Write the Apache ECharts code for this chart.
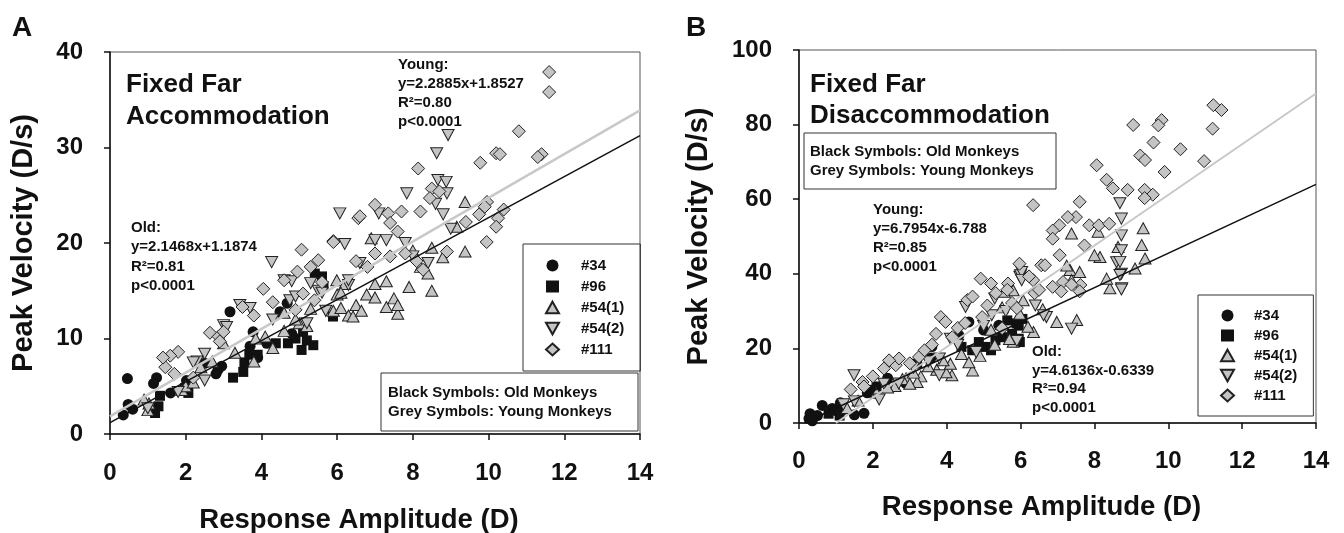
<!DOCTYPE html>
<html>
<head>
<meta charset="utf-8">
<script src="https://cdn.jsdelivr.net/npm/echarts@6/dist/echarts.min.js"></script>
<style>
html, body { margin: 0; padding: 0; background: #fff; }
#chart { width: 1344px; height: 533px; }
</style>
</head>
<body>
<div id="chart"></div>
<script>
// Panel A: Fixed Far Accommodation
const a34 = [[0.46,5.8],[0.35,2.0],[0.48,3.1],[0.6,2.6],[1.23,5.9],[1.15,5.3],[2.02,5.6],[2.5,7.4],[2.8,6.3],[2.85,6.7],[2.95,7.1],[3.17,12.8],[3.7,9.2],[3.78,10.7],[4.14,9.5],[4.49,12.8],[4.68,13.7],[4.8,10.5],[3.9,8.0],[1.6,4.3]];
const a96 = [[1.19,2.2],[1.28,2.9],[1.32,4.0],[1.1,2.5],[1.98,4.8],[2.07,4.3],[3.25,5.9],[3.52,6.5],[3.55,7.5],[3.68,8.3],[3.9,8.3],[4.38,9.5],[4.7,9.5],[5.06,8.8],[5.1,10.7],[5.37,9.3],[5.41,16.8],[5.6,16.5],[5.64,15.5],[5.89,12.3],[5.2,9.8],[4.9,10.0]];
const a54a = [[1.0,2.5],[1.03,3.2],[0.9,3.6],[1.9,4.6],[2.0,5.0],[2.2,5.4],[2.4,7.0],[2.7,7.6],[3.0,9.5],[3.3,8.5],[3.8,7.6],[3.85,10.0],[4.3,9.0],[4.6,10.8],[5.0,11.6],[5.2,11.3],[5.9,12.9],[6.1,13.2],[6.3,12.4],[6.5,13.5],[5.99,16.1],[6.2,15.7],[6.42,12.3],[6.64,12.9],[6.78,14.6],[7.0,15.7],[7.0,14.3],[7.3,16.0],[7.3,13.3],[7.5,14.2],[7.6,12.6],[7.6,13.5],[7.9,15.4],[8.2,17.5],[8.5,15.0],[8.4,16.8],[8.79,18.5],[9.38,24.3],[9.38,19.1],[9.16,21.7],[8.0,19.2],[8.5,19.5],[6.9,20.5],[6.0,14.6],[4.6,12.7],[4.9,12.0],[5.3,13.1],[6.1,14.8],[4.1,10.2]];
const a54b = [[6.07,23.1],[6.2,19.9],[4.27,18.0],[4.6,16.1],[4.8,16.0],[3.43,13.5],[3.7,13.2],[3.0,11.4],[2.5,8.4],[2.3,7.6],[2.5,5.6],[1.8,4.4],[1.0,2.7],[5.2,11.6],[5.7,12.9],[8.93,31.3],[8.63,29.4],[7.84,25.2],[8.66,26.6],[8.88,26.4],[8.9,25.2],[8.6,24.1],[7.1,23.1],[7.3,20.3],[7.0,20.3],[6.6,17.9],[7.8,20.0],[8.8,23.0],[8.4,17.9],[8.0,18.6],[6.3,15.6],[9.0,21.5],[5.5,15.0],[2.2,7.5],[3.08,11.2],[4.75,14.0],[4.9,14.4],[5.3,15.8],[4.3,12.0],[5.6,14.8],[6.3,16.1]];
const a111 = [[1.8,8.6],[1.59,8.2],[1.46,7.0],[1.7,6.3],[2.64,10.6],[2.87,10.2],[3.0,10.7],[2.9,9.7],[3.5,13.3],[3.8,12.4],[4.3,13.8],[4.05,15.2],[4.6,16.1],[5.06,19.3],[5.5,18.2],[5.9,20.2],[6.56,22.6],[5.1,14.7],[5.4,14.0],[11.6,37.9],[11.6,35.8],[10.8,31.7],[10.2,29.4],[10.3,29.3],[11.4,29.3],[11.3,29.0],[9.78,28.4],[8.14,27.8],[8.5,25.7],[8.7,25.4],[8.45,24.7],[7.0,24.0],[6.6,22.8],[7.35,23.1],[7.7,23.3],[8.2,23.3],[7.4,22.1],[7.6,21.2],[5.9,20.1],[9.96,24.3],[10.4,23.5],[10.25,22.6],[10.2,21.7],[9.95,20.1],[9.75,23.0],[9.9,23.8],[9.4,22.2],[8.9,19.1],[8.27,17.2],[8.1,18.1],[7.8,18.9],[7.0,18.9],[6.8,17.5],[6.5,18.1],[7.4,18.6],[2.2,5.9],[4.9,13.0],[1.4,8.0],[4.95,17.0],[5.3,17.5],[5.6,15.9]];

// Panel B: Fixed Far Disaccommodation
const b34 = [[0.27,1.2],[0.36,0.6],[0.3,2.5],[0.63,4.7],[0.9,3.9],[1.0,3.3],[1.12,5.4],[1.2,3.6],[1.5,2.2],[1.76,2.6],[1.85,8.1],[2.89,10.6],[3.57,17.4],[3.6,20.5],[4.33,23.5],[4.6,27.1],[5.0,24.9],[5.41,26.2],[2.4,12.0],[0.5,2.0]];
const b96 = [[4.69,19.5],[5.05,20.4],[5.2,19.5],[5.5,23.0],[5.77,23.9],[5.95,26.1],[6.05,27.9],[5.64,27.5],[5.32,22.2],[4.87,21.7],[1.9,8.9],[2.1,9.8],[4.4,20.4],[3.2,15.9],[5.95,22.6],[5.89,26.7],[5.98,21.7],[0.8,2.5],[1.1,2.0]];
const b54a = [[9.32,52.2],[9.28,47.7],[9.37,44.1],[9.1,41.4],[8.42,36.1],[8.33,38.7],[8.15,44.5],[8.1,51.3],[7.38,50.8],[7.34,41.0],[7.6,40.5],[7.38,38.3],[6.35,24.4],[6.98,27.1],[7.52,27.6],[8.64,47.2],[8.0,45.0],[5.8,35.6],[6.07,32.9],[5.98,29.3],[5.5,31.0],[4.14,12.8],[3.73,14.3],[3.3,12.5],[2.6,9.9],[2.1,8.1],[3.2,11.0],[3.98,13.6],[4.7,14.1],[5.8,21.8],[4.1,15.9],[4.6,16.3],[5.2,25.0],[5.56,35.2],[7.25,42.2],[1.6,6.0],[1.3,4.0],[2.9,12.0],[6.6,30.5],[2.4,9.5],[2.8,11.8],[3.1,13.5],[3.5,15.2],[3.9,16.8],[4.4,18.5],[4.9,18.0],[5.3,21.0],[5.7,22.5],[6.2,25.8],[3.0,10.5]];
const b54b = [[8.69,58.9],[8.73,54.8],[8.73,50.3],[8.73,46.3],[8.6,43.1],[8.73,40.0],[8.74,36.1],[5.98,39.2],[6.7,28.4],[1.49,12.8],[4.51,31.1],[5.3,33.4],[4.1,22.6],[5.22,28.9],[6.0,39.6],[3.8,17.3],[2.7,10.6],[2.17,6.3],[1.5,5.8],[3.8,12.8],[6.03,40.5],[6.03,38.3],[8.69,43.2],[8.73,35.8],[6.62,28.9],[7.38,25.3],[8.69,39.7],[4.8,19.0],[5.9,22.0],[2.3,10.5],[3.1,14.8],[3.5,16.5],[4.3,21.0],[5.0,26.0],[5.6,30.0],[6.4,31.5],[1.2,5.0]];
const b111 = [[11.22,85.2],[11.44,83.9],[11.2,78.9],[9.82,81.2],[9.73,79.8],[9.05,79.9],[10.33,73.4],[9.6,75.2],[10.97,70.2],[9.24,71.7],[9.37,70.5],[9.9,67.3],[8.06,69.1],[8.33,65.2],[8.5,62.9],[8.9,62.5],[9.36,62.5],[9.58,61.2],[9.36,60.3],[6.34,58.4],[7.6,59.3],[7.5,55.2],[7.28,55.2],[7.05,53.0],[6.87,51.6],[6.87,49.4],[7.86,53.0],[8.12,53.0],[8.4,53.4],[7.73,47.6],[7.06,45.0],[6.56,42.3],[5.97,42.7],[5.66,37.4],[6.34,38.3],[6.87,36.5],[7.15,37.8],[7.62,37.0],[6.38,34.8],[4.92,38.7],[5.2,37.4],[5.33,34.8],[4.56,33.0],[4.7,33.9],[3.84,28.4],[3.97,27.1],[3.71,23.9],[2.62,15.5],[2.3,14.6],[2.71,17.3],[2.44,16.8],[1.72,11.0],[1.76,9.8],[3.25,17.7],[4.15,23.0],[4.96,28.4],[5.5,25.4],[5.77,32.2],[6.23,39.3],[6.5,35.7],[6.66,42.3],[7.1,35.3],[7.6,35.3],[7.38,37.1],[5.64,35.7],[3.0,16.0],[3.4,19.5],[3.6,21.0],[4.3,25.5],[4.5,26.8],[5.1,31.5],[5.9,30.8],[2.0,12.5],[1.4,9.0]];

// regression fits [slope, intercept]
const aOldFit = [2.1468, 1.1874];
const aYoungFit = [2.2885, 1.8527];
const bOldFit = [4.6136, -0.6339];
const bYoungFit = [6.7954, -6.788];

const names = ['#34', '#96', '#54(1)', '#54(2)', '#111'];
const xTicks = { min: 0, max: 14, interval: 2 };
const aYTicks = { min: 0, max: 40, interval: 10 };
const bYTicks = { min: 0, max: 100, interval: 20 };

const FONT = '"Liberation Sans", Arial, sans-serif';
const symbols = ['circle', 'rect', 'path://M5,0L10,9L0,9Z', 'path://M0,0L10,0L5,9Z', 'diamond'];
const fills = ['#111', '#111', '#c4c4c4', '#c4c4c4', '#c4c4c4'];
const sizes = [11, 10, [12, 11], [12, 11], 13];

function fitLine(fit, xMax) {
    const [m, b] = fit;
    const x0 = Math.max(0, -b / m);
    return [[x0, m * x0 + b], [xMax, m * xMax + b]];
}

function scatterSeries(panel, sets) {
    return sets.map((d, i) => ({
        type: 'scatter',
        name: names[i],
        xAxisIndex: panel,
        yAxisIndex: panel,
        data: d,
        symbol: symbols[i],
        symbolSize: sizes[i],
        itemStyle: { color: fills[i], borderColor: '#222', borderWidth: i < 2 ? 0 : 1, opacity: 1 },
        emphasis: { disabled: true },
        z: 2,
    }));
}

function lineSeries(panel, fit, color, width) {
    return {
        type: 'line',
        xAxisIndex: panel,
        yAxisIndex: panel,
        data: fitLine(fit, 14),
        showSymbol: false,
        silent: true,
        lineStyle: { color: color, width: width },
        z: 3,
    };
}

function xAxis(i, gap, margin) {
    return {
        gridIndex: i,
        type: 'value',
        ...xTicks,
        name: 'Response Amplitude (D)',
        nameLocation: 'middle',
        nameGap: gap,
        nameTextStyle: { fontFamily: FONT, fontWeight: 'bold', fontSize: 27.5, color: '#111', padding: [0, 32, 0, 0] },
        axisLine: { onZero: false, lineStyle: { color: '#111', width: 1.5 } },
        axisTick: { show: true, length: 6, lineStyle: { color: '#111', width: 1.5 } },
        axisLabel: { fontFamily: FONT, fontWeight: 'bold', fontSize: 24, color: '#111', margin: margin },
        splitLine: { show: false },
    };
}

function yAxis(i, ticks, gap) {
    return {
        gridIndex: i,
        type: 'value',
        ...ticks,
        name: 'Peak Velocity (D/s)',
        nameLocation: 'middle',
        nameGap: gap,
        nameTextStyle: { fontFamily: FONT, fontWeight: 'bold', fontSize: 29, color: '#111' },
        axisLine: { onZero: false, lineStyle: { color: '#111', width: 1.5 } },
        axisTick: { show: true, length: 6, lineStyle: { color: '#111', width: 1.5 } },
        axisLabel: { fontFamily: FONT, fontWeight: 'bold', fontSize: 24, color: '#111', margin: 27 },
        splitLine: { show: false },
    };
}

function legend(left, top, padding, textPad, gap) {
    return {
        data: names,
        orient: 'vertical',
        left: left,
        top: top,
        itemWidth: 13,
        itemHeight: 12,
        itemGap: gap,
        padding: padding,
        borderColor: '#333',
        borderWidth: 1,
        selectedMode: false,
        textStyle: { fontFamily: FONT, fontWeight: 'bold', fontSize: 15, color: '#111', lineHeight: 15, padding: [0, 0, 0, textPad] },
    };
}

function label(x, y, text, size, lineHeight) {
    return {
        type: 'text',
        x: x,
        y: y,
        z: 10,
        style: {
            text: text,
            font: 'bold ' + size + 'px ' + FONT,
            fill: '#111',
            lineHeight: lineHeight || size,
            align: 'left',
            verticalAlign: 'middle',
        },
    };
}

function box(x, y, w, h) {
    return {
        type: 'rect',
        z: 9,
        shape: { x: x, y: y, width: w, height: h },
        style: { fill: 'rgba(0,0,0,0)', stroke: '#333', lineWidth: 1 },
    };
}

const chart = echarts.init(document.getElementById('chart'));

const option = {
    backgroundColor: '#fff',
    animation: false,
    grid: [
        { left: 110, top: 52, width: 530, height: 382, outerBoundsMode: 'none', containLabel: false, show: true, borderColor: '#555', borderWidth: 1 },
        { left: 799, top: 50, width: 517, height: 373, outerBoundsMode: 'none', containLabel: false, show: true, borderColor: '#555', borderWidth: 1 },
    ],
    xAxis: [xAxis(0, 72, 27), xAxis(1, 70, 26)],
    yAxis: [yAxis(0, aYTicks, 72), yAxis(1, bYTicks, 86)],
    legend: [
        legend(523, 244, [14, 16, 14, 22], 17, 6),
        legend(1198, 295, [13, 16, 13, 22], 15, 5),
    ],
    graphic: [
        label(12, 28, 'A', 28),
        label(686, 28, 'B', 28),
        // panel A
        label(126, 101, 'Fixed Far\nAccommodation', 26, 32),
        label(398, 93, 'Young:\ny=2.2885x+1.8527\nR²=0.80\np<0.0001', 15, 19),
        label(131, 257, 'Old:\ny=2.1468x+1.1874\nR²=0.81\np<0.0001', 15, 19.5),
        box(381, 373, 257, 58),
        label(388, 402, 'Black Symbols: Old Monkeys\nGrey Symbols: Young Monkeys', 15, 19),
        // panel B
        label(810, 100, 'Fixed Far\nDisaccommodation', 26, 31),
        box(804, 133, 252, 56),
        label(810, 161, 'Black Symbols: Old Monkeys\nGrey Symbols: Young Monkeys', 15, 19),
        label(873, 238, 'Young:\ny=6.7954x-6.788\nR²=0.85\np<0.0001', 15, 19),
        label(1032, 380, 'Old:\ny=4.6136x-0.6339\nR²=0.94\np<0.0001', 15, 18.5),
    ],
    series: [
        ...scatterSeries(0, [a34, a96, a54a, a54b, a111]),
        lineSeries(0, aYoungFit, '#c8c8c8', 2.5),
        lineSeries(0, aOldFit, '#111', 1.5),
        ...scatterSeries(1, [b34, b96, b54a, b54b, b111]),
        lineSeries(1, bYoungFit, '#c8c8c8', 2),
        lineSeries(1, bOldFit, '#111', 1.5),
    ],
};

chart.setOption(option);
</script>
</body>
</html>
